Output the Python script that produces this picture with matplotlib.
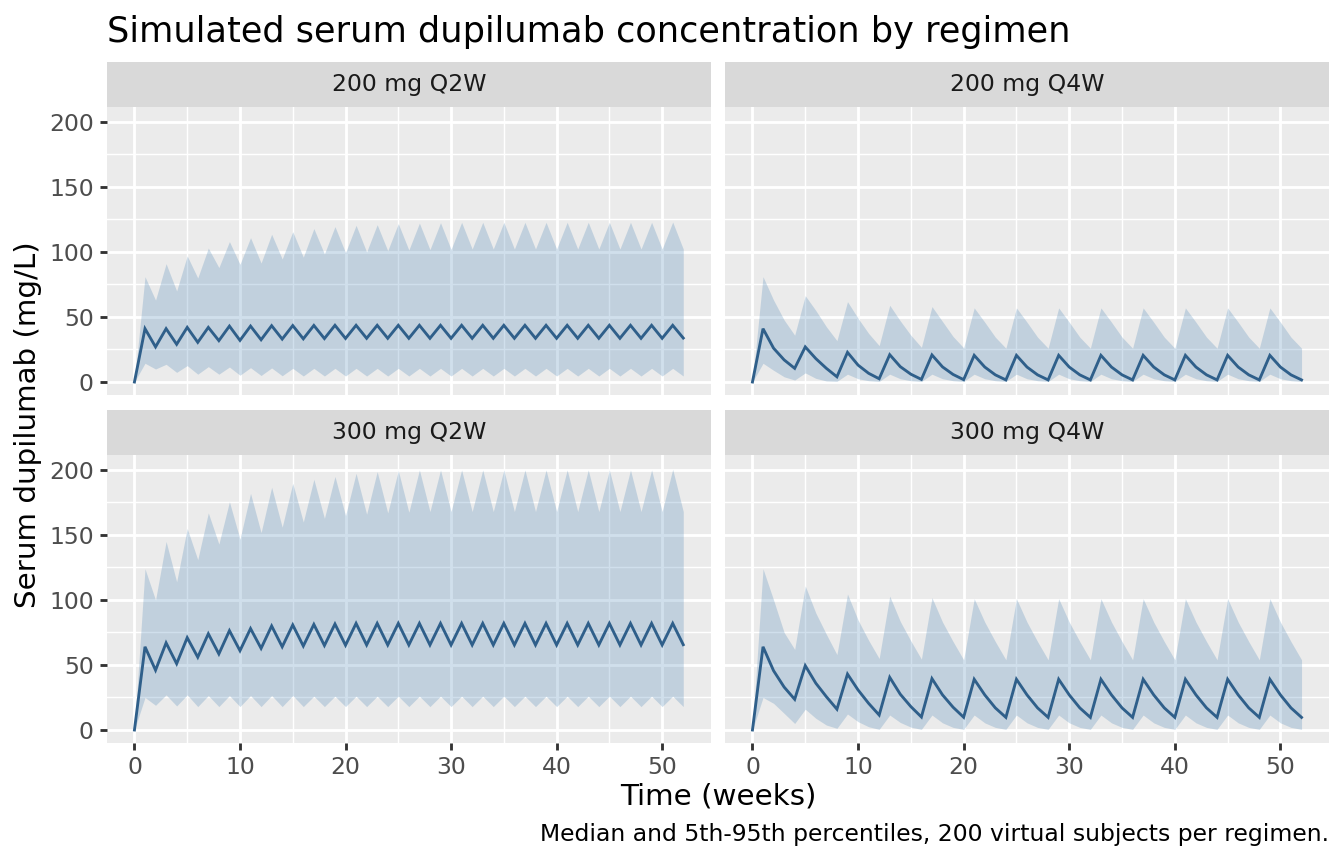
import matplotlib
matplotlib.use("Agg")
import matplotlib.pyplot as plt
from matplotlib.ticker import MultipleLocator

plt.rcParams['font.family'] = ['DejaVu Sans']

weeks = list(range(53))
regimens = ["200 mg Q2W", "200 mg Q4W", "300 mg Q2W", "300 mg Q4W"]

# ---- 200 mg Q2W ----
q2w200_med = [0,
    41, 27, 41, 29, 42, 30.5, 42, 31.8, 43, 32, 43, 32.5, 43.3, 33, 43.4, 33.2,
    43.5, 33.4, 43.6, 33.5, 43.6, 33.6, 43.6, 33.6, 43.6, 33.6, 43.6, 33.6,
    43.6, 33.6, 43.6, 33.6, 43.6, 33.6, 43.6, 33.6, 43.6, 33.6, 43.6, 33.6,
    43.6, 33.6, 43.6, 33.6, 43.6, 33.6, 43.6, 33.6, 43.6, 33.6, 43.6, 33.8]
q2w200_hi = [0,
    81, 63, 91, 70, 97, 80, 103, 88, 108, 90.5, 111, 91.5, 113.6, 94.6, 115.6, 96,
    118, 98.5, 119.5, 99.5, 120.5, 100, 121, 101, 121.8, 101.5, 122.2, 101.8,
    122.5, 102, 122.8, 102.3, 122.8, 102.3, 122.8, 102.3, 122.8, 102.3, 122.8, 102.3,
    122.8, 102.3, 122.8, 102.3, 122.8, 102.3, 122.8, 102.3, 122.8, 102.3, 123, 102.3]
q2w200_lo = [0,
    14.4, 10, 13.6, 7.4, 12.6, 6, 11.8, 6, 11.5, 5.2, 11, 5, 10.8, 4.8, 10.5, 4.6,
    10.5, 4.6, 10.5, 4.6, 10.5, 4.6, 10.5, 4.6, 10.5, 4.6, 10.5, 4.6,
    10.5, 4.6, 10.5, 4.6, 10.5, 4.6, 10.5, 4.6, 10.5, 4.6, 10.5, 4.6,
    10.5, 4.6, 10.5, 4.6, 10.5, 4.6, 10.5, 4.6, 10.5, 4.6, 10.5, 4.6]

# ---- 200 mg Q4W ----
q4w200_med = [0,
    41, 26, 17, 10.5,
    27, 18, 10.5, 4,
    22.8, 13, 6.7, 2.5,
    21, 11.8, 6, 2,
    20.8, 11.6, 5.8, 1.8,
    20.5, 11.5, 5.5, 1.6,
    20.5, 11.5, 5.5, 1.6,
    20.5, 11.5, 5.5, 1.6,
    20.5, 11.5, 5.5, 1.6,
    20.5, 11.5, 5.5, 1.6,
    20.5, 11.5, 5.5, 1.6,
    20.5, 11.5, 5.5, 1.6,
    20.5, 11.5, 5.5, 1.6]
q4w200_hi = [0,
    81, 63, 47.7, 36,
    66.4, 55, 42.5, 31.8,
    61.8, 49, 37.4, 28,
    59, 47, 36, 26.7,
    58, 46.5, 35, 26.3,
    57, 46, 34.5, 26,
    57, 46, 34.5, 26,
    57, 46, 34.5, 26,
    57, 46, 34.5, 26,
    57, 46, 34.5, 26,
    57, 46, 34.5, 26,
    57, 46, 34.5, 26,
    57, 46, 34.5, 26]
q4w200_lo = [0,
    14.4, 9, 4, 1.5,
    7, 2.8, 0.8, 0.5,
    6, 2.5, 1, 0.4,
    6, 2.5, 1, 0.4,
    6, 2.5, 1, 0.4,
    6, 2.5, 1, 0.4,
    6, 2.5, 1, 0.4,
    6, 2.5, 1, 0.4,
    6, 2.5, 1, 0.4,
    6, 2.5, 1, 0.4,
    6, 2.5, 1, 0.4,
    6, 2.5, 1, 0.4,
    6, 2.5, 1, 0.4]

# ---- 300 mg Q2W ----
q2w300_med = [0,
    64, 46, 67, 51, 71, 56, 74, 58.5, 76.4, 61, 78, 62.8, 80, 64, 80.8, 64.6,
    81.2, 65, 81.5, 65.2, 82, 65.4, 82, 65.4, 82, 65.4, 82, 65.4,
    82, 65.4, 82, 65.4, 82, 65.4, 82, 65.4, 82, 65.4, 82, 65.4,
    82, 65.4, 82, 65.4, 82, 65.4, 82, 65.4, 82, 65.4, 82, 65.6]
q2w300_hi = [0,
    124, 100, 145, 114, 155, 131, 167, 143, 175.6, 146.7, 182, 151.8, 186.7, 156, 189.7, 160,
    192.8, 162.8, 195, 164.9, 197.4, 166, 198.7, 167, 199.5, 167.5, 200, 168,
    200, 168, 200, 168, 200, 168, 200, 168, 200, 168, 200, 168,
    200, 168, 200, 168, 200, 168, 200, 168, 200, 168, 200.5, 168]
q2w300_lo = [0,
    25, 19, 27, 18.5, 27, 18, 26.5, 18, 26.5, 18, 26.5, 18, 26.5, 18, 26.5, 18,
    26, 18, 26, 18, 26, 18, 26, 18, 26, 18, 26, 18,
    26, 18, 26, 18, 26, 18, 26, 18, 26, 18, 26, 18,
    26, 18, 26, 18, 26, 18, 26, 18, 26, 18, 26, 18]

# ---- 300 mg Q4W ----
q4w300_med = [0,
    64, 45.6, 33, 23.6,
    49.5, 36, 25.6, 16,
    43, 30.8, 20.5, 11.5,
    40.5, 27.5, 18, 10,
    39.5, 27, 17.5, 9.8,
    39, 27, 17, 9.7,
    39, 27, 17, 9.7,
    39, 27, 17, 9.7,
    39, 27, 17, 9.7,
    39, 27, 17, 9.7,
    39, 27, 17, 9.7,
    39, 27, 17, 9.7,
    39, 27, 17, 9.7]
q4w300_hi = [0,
    124, 100, 75, 62,
    110.8, 90, 73.6, 58,
    104.6, 84.6, 69, 55,
    103, 83.5, 68.5, 54.5,
    101.8, 83, 68, 54,
    101, 83, 68, 54,
    101, 83, 68, 54,
    101, 83, 68, 54,
    101, 83, 68, 54,
    101, 83, 68, 54,
    101, 83, 68, 54,
    101, 83, 68, 54,
    101, 83, 68, 54]
q4w300_lo = [0,
    25, 20.5, 12.8, 5,
    16, 9, 3.8, 1.3,
    12.3, 6.4, 2.5, 0.5,
    11.5, 5.8, 2.2, 0.5,
    11.5, 5.5, 2, 0.5,
    11.5, 5.5, 2, 0.5,
    11.5, 5.5, 2, 0.5,
    11.5, 5.5, 2, 0.5,
    11.5, 5.5, 2, 0.5,
    11.5, 5.5, 2, 0.5,
    11.5, 5.5, 2, 0.5,
    11.5, 5.5, 2, 0.5,
    11.5, 5.5, 2, 0.5]

medians = [q2w200_med, q4w200_med, q2w300_med, q4w300_med]
uppers = [q2w200_hi, q4w200_hi, q2w300_hi, q4w300_hi]
lowers = [q2w200_lo, q4w200_lo, q2w300_lo, q4w300_lo]

for s in medians + uppers + lowers:
    assert len(s) == len(weeks), len(s)

x_ticks = [0, 10, 20, 30, 40, 50]
y_ticks = [0, 50, 100, 150, 200]

title = "Simulated serum dupilumab concentration by regimen"
x_label = "Time (weeks)"
y_label = "Serum dupilumab (mg/L)"
caption = "Median and 5th-95th percentiles, 200 virtual subjects per regimen."

# ---- layout (pixel coords, top-left origin) ----
W, H = 1344, 864
fig = plt.figure(figsize=(7, 4.5), dpi=192)
fig.patch.set_facecolor("white")


def box(x0, y0, x1, y1):
    return [x0 / W, 1 - y1 / H, (x1 - x0) / W, (y1 - y0) / H]


cols = [(107, 710.7), (725, 1329)]
rows = [((62, 107), (107, 395)), ((410, 455), (455, 743))]

line_col = "#2F5F8A"
fill_col = "#4682B4"

for i, name in enumerate(regimens):
    r, c = divmod(i, 2)
    (sy0, sy1), (py0, py1) = rows[r]
    x0, x1 = cols[c]
    # strip
    sax = fig.add_axes(box(x0, sy0, x1, sy1))
    sax.set_facecolor("#D9D9D9")
    for sp in sax.spines.values():
        sp.set_visible(False)
    sax.set_xticks([])
    sax.set_yticks([])
    sax.text(0.5, 0.5, name, ha="center", va="center", fontsize=8.8,
             color="#1A1A1A", transform=sax.transAxes)
    # panel
    ax = fig.add_axes(box(x0, py0, x1, py1))
    ax.set_facecolor("#EBEBEB")
    for sp in ax.spines.values():
        sp.set_visible(False)
    ax.set_xlim(-2.6, 54.6)
    ax.set_ylim(-10, 211.5)
    ax.xaxis.set_major_locator(MultipleLocator(10))
    ax.xaxis.set_minor_locator(MultipleLocator(5))
    ax.yaxis.set_major_locator(MultipleLocator(50))
    ax.yaxis.set_minor_locator(MultipleLocator(25))
    ax.set_xticks(x_ticks)
    ax.set_yticks(y_ticks)
    ax.grid(which="major", color="white", linewidth=1.07)
    ax.grid(which="minor", color="white", linewidth=0.53)
    ax.set_axisbelow(True)
    ax.tick_params(which="minor", length=0)
    ax.tick_params(which="major", direction="out", length=2.75, width=1.07,
                   color="#333333", labelsize=8.8, labelcolor="#4D4D4D", pad=2.2)
    if c != 0:
        ax.tick_params(axis="y", which="major", length=0, labelleft=False)
    if r != 1:
        ax.tick_params(axis="x", which="major", length=0, labelbottom=False)
    ax.fill_between(weeks, lowers[i], uppers[i], color=fill_col, alpha=0.25,
                    linewidth=0)
    ax.plot(weeks, medians[i], color=line_col, linewidth=1.07,
            solid_joinstyle="miter")

fig.text(107 / W, 1 - 42 / H, title, ha="left", va="baseline", fontsize=13.2,
         color="black")
fig.text(718 / W, 1 - 797 / H, x_label, ha="center", va="center", fontsize=11,
         color="black")
fig.text(28 / W, 1 - 425 / H, y_label, ha="center", va="center", fontsize=11,
         rotation=90, color="black")
fig.text(1329 / W, 1 - 835 / H, caption, ha="right", va="center", fontsize=8.8,
         color="black")

fig.savefig("out.png", dpi=192)
